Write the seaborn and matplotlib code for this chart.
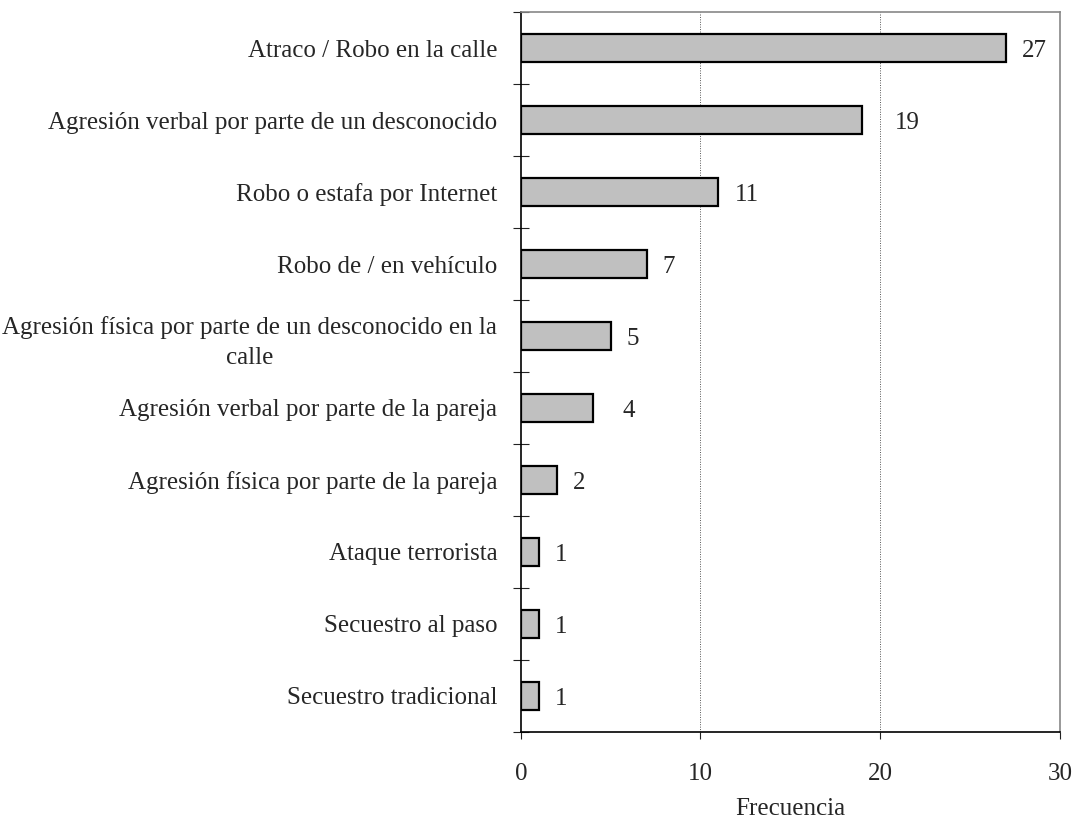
import matplotlib
matplotlib.use("Agg")
import matplotlib.pyplot as plt
import numpy as np
import pandas as pd
import seaborn as sns

# -----------------------------
# Data
# -----------------------------
categories = [
    "Atraco / Robo en la calle",
    "Agresión verbal por parte de un desconocido",
    "Robo o estafa por Internet",
    "Robo de / en vehículo",
    "Agresión física por parte de un desconocido en la\ncalle",
    "Agresión verbal por parte de la pareja",
    "Agresión física por parte de la pareja",
    "Ataque terrorista",
    "Secuestro al paso",
    "Secuestro tradicional",
]
frecuencias = [27, 19, 11, 7, 5, 4, 2, 1, 1, 1]
x_ticks = [0, 10, 20, 30]

df = pd.DataFrame({"categoria": categories, "frecuencia": frecuencias})

# -----------------------------
# Style
# -----------------------------
sns.set_style("white")
plt.rcParams["font.family"] = ["Liberation Serif", "DejaVu Serif"]

fig = plt.figure(figsize=(10.76, 8.23), dpi=100)
ax = fig.add_axes([0.484, 0.1106, 0.501, 0.8748])

sns.barplot(
    data=df, x="frecuencia", y="categoria", orient="h",
    color="#C0C0C0", edgecolor="black", linewidth=1.6,
    width=0.4, saturation=1, ax=ax,
)

ax.set_xlim(0, 30)
ax.set_ylim(len(categories) - 0.5, -0.5)
ax.set_xticks(x_ticks)
ax.set_xticklabels([str(t) for t in x_ticks], fontsize=18)

# dotted vertical gridlines
for t in x_ticks[1:-1]:
    ax.axvline(t, color="#555555", linestyle=(0, (1, 1.5)), linewidth=0.7, zorder=0)

# y labels centred on bars, ticks between categories
ax.set_yticks(np.arange(-0.5, len(categories), 1.0), minor=True)
ax.tick_params(axis="y", which="major", left=True, length=0, pad=17, labelsize=18)
for lbl in ax.get_yticklabels():
    lbl.set_multialignment("center")
    lbl.set_linespacing(1.45)
ax.tick_params(axis="y", which="minor", left=True, direction="inout", length=11,
               width=0.8, color="#222222")
ax.tick_params(axis="x", which="major", bottom=True, direction="out", length=5,
               width=0.8, color="#222222", pad=17)

ax.set_ylabel("")
ax.set_xlabel("Frecuencia", fontsize=18, labelpad=10)

# spines
for side in ["left", "bottom"]:
    ax.spines[side].set_color("black")
    ax.spines[side].set_linewidth(1.2)
for side in ["top", "right"]:
    ax.spines[side].set_color("#888888")
    ax.spines[side].set_linewidth(1.2)

# value labels (Excel placed a couple of them further out)
extra_gap = {1: 12, 5: 10}
for i, v in enumerate(frecuencias):
    ax.annotate(
        str(v), xy=(v, i), xytext=(11.5 + extra_gap.get(i, 0), -2),
        textcoords="offset points", ha="left", va="center", fontsize=18,
    )

fig.savefig("out.png", dpi=100)
